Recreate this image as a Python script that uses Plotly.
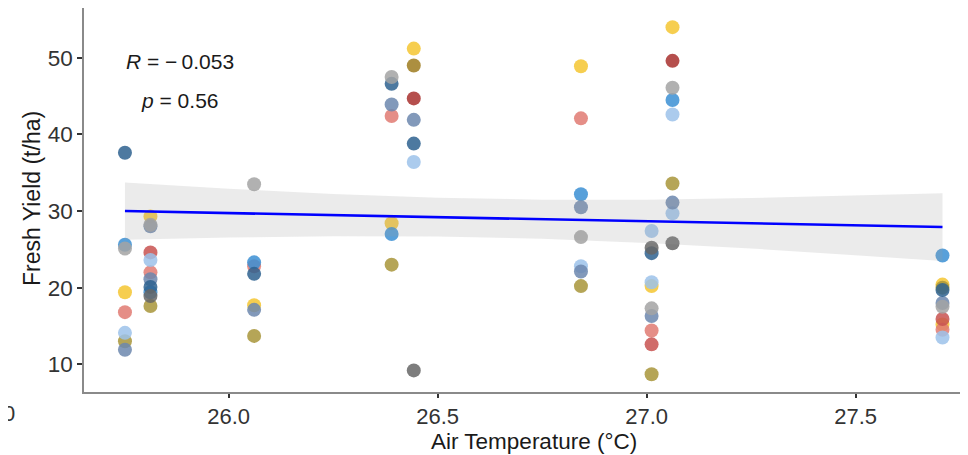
import numpy as np
import plotly.graph_objects as go

# Air temperature (°C) of each observation
temp = [25.752]*8 + [25.813]*11 + [26.061]*7 + [26.39]*7 + [26.443]*7 + \
       [26.843]*8 + [27.012]*10 + [27.062]*9 + [27.708]*10

# Fresh yield (t/ha) of each observation
fresh_yield = [
    37.6, 25.6, 25.1, 19.4, 16.8, 14.1, 13.0, 11.9,
    29.3, 28.2, 28.0, 24.6, 23.6, 22.0, 21.1, 20.1, 19.4, 18.9, 17.6,
    33.5, 23.3, 22.8, 21.8, 17.7, 17.1, 13.7,
    47.5, 46.6, 43.9, 42.4, 28.4, 27.0, 23.0,
    51.2, 49.0, 44.7, 41.9, 38.8, 36.4, 9.2,
    48.9, 42.1, 32.2, 30.5, 26.6, 22.8, 22.1, 20.2,
    27.4, 25.2, 24.5, 20.7, 20.2, 17.3, 16.3, 14.4, 12.6, 8.7,
    54.0, 49.6, 46.1, 44.5, 42.6, 33.6, 31.1, 29.7, 25.8,
    24.2, 20.4, 20.0, 19.7, 18.0, 17.5, 15.9, 15.2, 14.5, 13.5,
]

# Group (colour) of each observation
group = [
    "steel", "blue", "grey", "yellow", "salmon", "lightblue", "olive", "slate",
    "yellow", "grey", "slate", "red", "lightblue", "salmon", "slate", "steel", "blue", "darkgrey", "olive",
    "grey", "blue", "salmon", "steel", "yellow", "slate", "olive",
    "grey", "steel", "slate", "salmon", "yellow", "blue", "olive",
    "yellow", "gold", "darkred", "slate", "steel", "lightblue", "darkgrey",
    "yellow", "salmon", "blue", "slate", "grey", "lightblue", "slate", "olive",
    "lightblue", "darkgrey", "steel", "lightblue", "yellow", "grey", "slate", "salmon", "red", "olive",
    "yellow", "darkred", "grey", "blue", "lightblue", "olive", "slate", "lightblue", "darkgrey",
    "blue", "yellow", "olive", "steel", "slate", "grey", "red", "yellow", "salmon", "lightblue",
]

palette = {
    "yellow": "#F4C531", "olive": "#A8953A", "gold": "#9E7B1E",
    "salmon": "#E07A72", "red": "#C85250", "darkred": "#A8302E",
    "lightblue": "#9CC2EA", "blue": "#3B8FD4", "slate": "#6C87AE",
    "steel": "#2E628F", "grey": "#A3A3A3", "darkgrey": "#666666",
}

# Linear-fit line and its 95% confidence band
fit_x = [25.752, 26.0, 26.25, 26.5, 26.75, 27.0, 27.25, 27.5, 27.708]
fit_y = [30.0, 29.73, 29.47, 29.2, 28.93, 28.66, 28.4, 28.13, 27.91]
band_lo = [26.26, 26.55, 26.72, 26.68, 26.38, 25.84, 25.11, 24.26, 23.49]
band_hi = [33.74, 32.91, 32.22, 31.72, 31.48, 31.48, 31.69, 32.0, 32.33]

x_ticks = [26.0, 26.5, 27.0, 27.5]
x_tick_labels = ["26.0", "26.5", "27.0", "27.5"]
y_ticks = [10, 20, 30, 40, 50]
x_title = "Air Temperature (°C)"
y_title = "Fresh Yield (t/ha)"
stat_R = "−\u20090.053"
stat_p = "0.56"

fig = go.Figure()

xa = np.array(temp)
ya = np.array(fresh_yield)
ga = np.array(group)
for g in palette:
    m = ga == g
    fig.add_trace(go.Scatter(
        x=xa[m], y=ya[m], mode="markers",
        marker=dict(size=14, color=palette[g], opacity=0.85, line=dict(width=0)),
        showlegend=False, hoverinfo="skip"))

fig.add_trace(go.Scatter(
    x=fit_x + fit_x[::-1], y=band_hi + band_lo[::-1],
    fill="toself", fillcolor="rgba(153,153,153,0.2)", line=dict(width=0),
    mode="lines", showlegend=False, hoverinfo="skip"))
fig.add_trace(go.Scatter(
    x=fit_x, y=fit_y, mode="lines", line=dict(color="#0000FF", width=2.6),
    showlegend=False, hoverinfo="skip"))

# figure is placed at (8, 8) in the page; plot area spans fig x 76..960, y 0..384
PL, PW, PH = 76, 884, 384
def px(x):
    return (x - 8 - PL) / PW
def py(y):
    return (PH - (y - 8)) / PH

font = "Liberation Sans, Arial, sans-serif"
fig.add_annotation(xref="paper", yref="paper", x=px(180), y=py(61),
                   text=f"<i>R</i> = {stat_R}", showarrow=False,
                   font=dict(family=font, size=21, color="#1a1a1a"), xanchor="center", yanchor="middle")
fig.add_annotation(xref="paper", yref="paper", x=px(180), y=py(100),
                   text=f"<i>p</i> = {stat_p}", showarrow=False,
                   font=dict(family=font, size=21, color="#1a1a1a"), xanchor="center", yanchor="middle")
fig.add_annotation(xref="paper", yref="paper", x=px(534), y=py(441),
                   text=x_title, showarrow=False, borderpad=0,
                   font=dict(family=font, size=22.5, color="#1a1a1a"), xanchor="center", yanchor="middle")
fig.add_annotation(xref="paper", yref="paper", x=px(32), y=py(199),
                   text=y_title, showarrow=False, textangle=-90,
                   font=dict(family=font, size=23, color="#1a1a1a"), xanchor="center", yanchor="middle")
fig.add_annotation(xref="paper", yref="paper", x=px(9), y=py(413),
                   text="0", showarrow=False,
                   font=dict(family=font, size=22, color="#333333"), xanchor="center", yanchor="middle")

fig.update_layout(
    width=960, height=447,
    margin=dict(l=PL, r=0, t=0, b=447 - PH),
    paper_bgcolor="white", plot_bgcolor="white",
    font=dict(family=font, color="#1a1a1a"),
    xaxis=dict(range=[25.654, 27.769], tickvals=x_ticks, ticktext=x_tick_labels,
               showgrid=False, zeroline=False, showline=True, linecolor="#8a8a8a", linewidth=1.5,
               ticks="outside", ticklen=4, tickcolor="#333333", tickwidth=1.5,
               tickfont=dict(size=22, color="#333333"), automargin=False),
    yaxis=dict(range=[6.38, 56.5], tickvals=y_ticks,
               showgrid=False, zeroline=False, showline=True, linecolor="#8a8a8a", linewidth=1.5,
               ticks="outside", ticklen=5, tickcolor="#333333", tickwidth=1.5,
               tickfont=dict(size=22.5, color="#333333"), automargin=False),
)

fig.write_html("out.html")
